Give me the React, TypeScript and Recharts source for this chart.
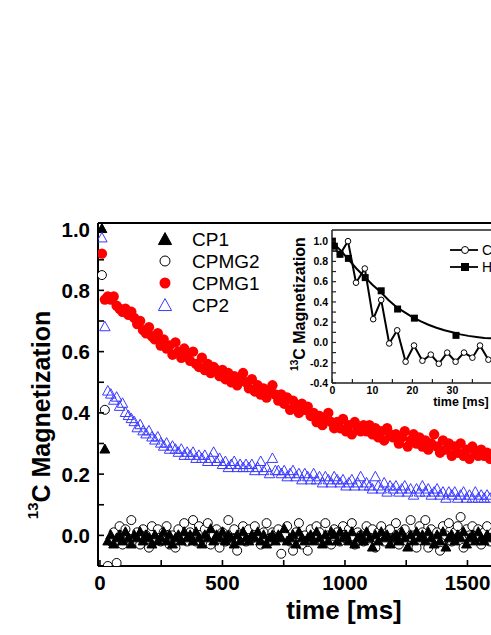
import React from 'react';
import { ScatterChart, Scatter, XAxis, YAxis, ReferenceLine } from 'recharts';

const FONT = '"Liberation Sans", Arial, Helvetica, sans-serif';

// main plot, time in ms
const times = [
  8, 20, 32, 44, 56, 68, 80, 92, 104, 116,
  128, 140, 152, 164, 176, 188, 200, 212, 224, 236,
  248, 260, 272, 284, 296, 308, 320, 332, 344, 356,
  368, 380, 392, 404, 416, 428, 440, 452, 464, 476,
  488, 500, 512, 524, 536, 548, 560, 572, 584, 596,
  608, 620, 632, 644, 656, 668, 680, 692, 704, 716,
  728, 740, 752, 764, 776, 788, 800, 812, 824, 836,
  848, 860, 872, 884, 896, 908, 920, 932, 944, 956,
  968, 980, 992, 1004, 1016, 1028, 1040, 1052, 1064, 1076,
  1088, 1100, 1112, 1124, 1136, 1148, 1160, 1172, 1184, 1196,
  1208, 1220, 1232, 1244, 1256, 1268, 1280, 1292, 1304, 1316,
  1328, 1340, 1352, 1364, 1376, 1388, 1400, 1412, 1424, 1436,
  1448, 1460, 1472, 1484, 1496, 1508, 1520, 1532, 1544, 1556,
  1568, 1580, 1592,
];

const cp1 = [
  1.0, 0.28, -0.02, 0.0, -0.03, -0.01, 0.0, -0.02, 0.01, -0.01,
  -0.03, 0.0, -0.01, 0.01, -0.02, 0.0, -0.01, -0.03, 0.0, -0.02,
  -0.01, 0.01, -0.02, 0.0, -0.03, -0.01, 0.0, -0.02, 0.01, -0.01,
  0.0, -0.02, 0.01, -0.01, -0.03, 0.0, -0.01, 0.02, -0.02, 0.0,
  -0.01, 0.01, -0.02, 0.0, -0.01, -0.03, 0.0, -0.02, 0.01, -0.01,
  -0.02, 0.0, -0.01, 0.01, -0.02, 0.0, -0.03, -0.01, 0.0, -0.02,
  0.0, -0.01, 0.02, -0.02, -0.01, 0.0, -0.03, 0.01, -0.01, -0.02,
  -0.01, 0.0, -0.02, 0.01, -0.01, -0.03, 0.0, -0.02, 0.01, 0.0,
  -0.02, 0.01, -0.01, 0.0, -0.02, 0.01, -0.03, -0.01, 0.0, -0.02,
  0.01, -0.01, -0.04, 0.0, -0.02, 0.01, -0.01, 0.0, -0.03, -0.01,
  0.0, -0.02, 0.01, -0.01, -0.04, 0.0, -0.02, 0.01, -0.01, 0.0,
  -0.02, 0.01, -0.01, -0.03, 0.0, -0.02, 0.01, -0.04, -0.01, 0.0,
  -0.02, 0.0, -0.01, 0.01, -0.03, -0.01, 0.0, -0.02, 0.01, -0.01,
  -0.02, 0.0, -0.01,
];

const cpmg2 = [
  0.85, 0.41, -0.1, -0.02, 0.01, -0.09, 0.03, -0.03, 0.02, -0.01,
  0.05, -0.02, 0.01, -0.03, 0.02, 0.0, -0.04, 0.03, -0.01, 0.02,
  -0.02, 0.01, 0.03, -0.03, 0.0, -0.04, 0.02, -0.01, 0.04, -0.02,
  0.01, 0.05, -0.02, 0.03, -0.01, 0.02, 0.04, -0.03, 0.0, 0.02,
  -0.04, 0.01, -0.02, 0.05, -0.01, 0.02, -0.05, 0.0, 0.03, -0.02,
  0.02, -0.01, 0.03, 0.0, -0.03, 0.01, 0.04, -0.02, 0.01, -0.01,
  0.02, -0.06, 0.0, 0.03, -0.02, -0.05, 0.01, 0.04, -0.03, 0.0,
  -0.05, 0.02, -0.01, 0.03, 0.01, -0.02, 0.04, 0.0, -0.03, 0.02,
  0.01, -0.02, 0.03, -0.01, 0.02, 0.04, -0.03, 0.01, 0.0, -0.02,
  0.03, -0.01, 0.02, -0.04, 0.01, 0.03, -0.02, 0.0, 0.02, -0.01,
  0.04, -0.03, 0.01, 0.02, -0.02, 0.05, 0.0, -0.04, 0.03, 0.01,
  0.05, -0.04, 0.02, -0.01, 0.01, -0.05, 0.03, 0.0, 0.04, -0.02,
  0.01, 0.03, 0.06, -0.04, 0.02, 0.0, 0.03, -0.01, 0.02, -0.03,
  0.01, 0.03, -0.02,
];

const cpmg1 = [
  0.92, 0.77, 0.78, 0.77, 0.78, 0.75, 0.74, 0.73, 0.74, 0.72,
  0.73, 0.71, 0.69, 0.7, 0.67, 0.66, 0.68, 0.65, 0.64, 0.66,
  0.62, 0.64, 0.61, 0.62, 0.59, 0.63, 0.6, 0.58, 0.61, 0.59,
  0.57, 0.6, 0.56, 0.55, 0.58, 0.54, 0.56, 0.53, 0.55, 0.54,
  0.52, 0.54, 0.51, 0.53, 0.5, 0.52, 0.49, 0.51, 0.53, 0.5,
  0.48, 0.51, 0.47, 0.49, 0.46, 0.48, 0.45, 0.47, 0.49, 0.46,
  0.44, 0.46, 0.43, 0.45, 0.41, 0.44, 0.42, 0.4, 0.43, 0.41,
  0.42, 0.39, 0.4, 0.37, 0.39, 0.36, 0.38, 0.4, 0.37, 0.35,
  0.37, 0.35, 0.38, 0.34, 0.36, 0.33, 0.37, 0.35, 0.34, 0.36,
  0.34, 0.36, 0.33, 0.35, 0.32, 0.34, 0.31, 0.35, 0.33, 0.32,
  0.33, 0.3, 0.32, 0.34, 0.29, 0.31, 0.33, 0.3, 0.32, 0.29,
  0.31, 0.28, 0.3, 0.33, 0.29, 0.27, 0.31, 0.28, 0.3, 0.26,
  0.29, 0.27, 0.3, 0.26, 0.28, 0.25, 0.29, 0.27, 0.26, 0.28,
  0.26, 0.27, 0.25,
];

const cp2 = [
  0.97, 0.68, 0.47, 0.46, 0.44, 0.45, 0.42, 0.43, 0.4, 0.39,
  0.38, 0.37, 0.35, 0.36, 0.34, 0.33, 0.34, 0.32, 0.31, 0.32,
  0.3, 0.29, 0.3, 0.28, 0.29, 0.28, 0.27, 0.28, 0.26, 0.27,
  0.26, 0.27, 0.25, 0.26, 0.25, 0.26, 0.24, 0.25, 0.27, 0.24,
  0.25, 0.23, 0.24, 0.22, 0.23, 0.24, 0.22, 0.23, 0.22, 0.23,
  0.22, 0.23, 0.21, 0.22, 0.24, 0.21, 0.22, 0.2, 0.25, 0.21,
  0.21, 0.2, 0.21, 0.19, 0.2, 0.21, 0.19, 0.2, 0.18, 0.2,
  0.19, 0.18, 0.2, 0.18, 0.19, 0.17, 0.19, 0.18, 0.17, 0.19,
  0.18, 0.17, 0.18, 0.16, 0.17, 0.18, 0.16, 0.17, 0.19, 0.16,
  0.17, 0.16, 0.15, 0.19, 0.16, 0.15, 0.17, 0.14, 0.16, 0.15,
  0.16, 0.14, 0.15, 0.16, 0.14, 0.15, 0.13, 0.15, 0.14, 0.16,
  0.14, 0.15, 0.13, 0.14, 0.15, 0.13, 0.14, 0.12, 0.14, 0.13,
  0.14, 0.12, 0.13, 0.14, 0.12, 0.13, 0.12, 0.14, 0.12, 0.13,
  0.12, 0.13, 0.12,
];

const xTicks = [0, 250, 500, 750, 1000, 1250, 1500];
const yTicks = [0, 0.1, 0.2, 0.3, 0.4, 0.5, 0.6, 0.7, 0.8, 0.9, 1.0];

// inset, time in ms
const insetCpmgT = [0, 0.5, 1.9, 3.9, 5.9, 8.1, 10.2, 12.2, 14.2, 16.2, 18.3, 20.4, 22.5, 24.6, 26.6, 28.7, 30.8, 32.9, 35.0, 36.9, 39.0];
const insetCpmgV = [0.98, 0.93, 0.87, 1.0, 0.59, 0.73, 0.23, 0.42, -0.01, 0.12, -0.19, -0.03, -0.18, -0.12, -0.21, -0.1, -0.19, -0.1, -0.15, -0.03, -0.17];
const insetHpT = [0, 0.5, 1.9, 4.0, 8.2, 12.2, 16.3, 20.5, 30.9];
const insetHpV = [1.0, 0.95, 0.87, 0.83, 0.64, 0.51, 0.33, 0.24, 0.07];
const fitT = [0, 2, 4, 6, 8, 10, 12, 14, 16, 18, 20, 22, 24, 26, 28, 30, 32, 34, 36, 38, 40];
const fitV = [0.99, 0.91, 0.82, 0.73, 0.65, 0.57, 0.5, 0.42, 0.35, 0.3, 0.25, 0.21, 0.175, 0.145, 0.12, 0.1, 0.08, 0.065, 0.055, 0.045, 0.04];
const insetXTicks = [0, 5, 10, 15, 20, 25, 30, 35];
const insetYTicks = [-0.4, -0.3, -0.2, -0.1, 0, 0.1, 0.2, 0.3, 0.4, 0.5, 0.6, 0.7, 0.8, 0.9, 1.0];

const pair = (t: number[], v: number[]) => v.map((y, i) => ({ t: t[i], v: y }));

const isEvenTenth = (v: number) => Math.round(v * 10) % 2 === 0;

const xTick = (len: number, major: (v: number) => boolean, fs: number, dy: number, sw: number, stroke: string) =>
  (props: any) => {
    const { x, y, payload } = props;
    const v = payload.value;
    return (
      <g>
        <line x1={x} y1={y} x2={x} y2={y - len} stroke={stroke} strokeWidth={sw} />
        {major(v) && (
          <text x={x} y={y + dy} textAnchor="middle" fontSize={fs} fontWeight="bold" fontFamily={FONT} fill="#000">
            {v}
          </text>
        )}
      </g>
    );
  };

const yTick = (len: number, fs: number, gap: number, sw: number, stroke: string) =>
  (props: any) => {
    const { x, y, payload } = props;
    const v = payload.value;
    return (
      <g>
        <line x1={x} y1={y} x2={x + len} y2={y} stroke={stroke} strokeWidth={sw} />
        {isEvenTenth(v) && (
          <text x={x - gap} y={y + fs * 0.36} textAnchor="end" fontSize={fs} fontWeight="bold" fontFamily={FONT} fill="#000">
            {Math.abs(v) < 1e-9 ? '0.0' : v.toFixed(1)}
          </text>
        )}
      </g>
    );
  };

const openCircle = (r: number, sw: number) => (p: any) =>
  <circle cx={p.cx} cy={p.cy} r={r} fill="#fff" stroke="#000" strokeWidth={sw} />;
const dot = (r: number, color: string) => (p: any) => <circle cx={p.cx} cy={p.cy} r={r} fill={color} />;
const tri = (s: number, fill: string, stroke: string) => (p: any) => (
  <polygon
    points={`${p.cx},${p.cy - s * 0.62} ${p.cx - s * 0.55},${p.cy + s * 0.38} ${p.cx + s * 0.55},${p.cy + s * 0.38}`}
    fill={fill}
    stroke={stroke}
    strokeWidth={1}
  />
);
const square = (s: number) => (p: any) => <rect x={p.cx - s / 2} y={p.cy - s / 2} width={s} height={s} fill="#000" />;
const nothing = () => <g />;

const BLUE = '#3a3aff';
const RED = '#ff0000';

const InsetChart = () => (
  <div style={{ position: 'absolute', left: 260, top: 220 }}>
    <ScatterChart width={231} height={193} margin={{ top: 10, right: 0, bottom: 0, left: 0 }}>
      <XAxis
        type="number"
        dataKey="t"
        domain={[-0.1, 39.65]}
        ticks={insetXTicks}
        interval={0}
        allowDataOverflow
        height={30}
        tickSize={0}
        tickMargin={0}
        axisLine={{ stroke: '#222', strokeWidth: 1.5 }}
        tickLine={false}
        tick={xTick(4, (v) => v % 10 === 0, 10.5, 11, 1.2, '#222')}
      />
      <YAxis
        type="number"
        dataKey="v"
        domain={[-0.4, 1.11]}
        ticks={insetYTicks}
        interval={0}
        allowDataOverflow
        width={72}
        tickSize={0}
        tickMargin={0}
        axisLine={{ stroke: '#222', strokeWidth: 1.5 }}
        tickLine={false}
        tick={yTick(4, 10.5, 4, 1.2, '#222')}
      />
      <ReferenceLine y={1.11} stroke="#222" strokeWidth={1.5} />
      <Scatter data={pair(fitT, fitV)} line={{ stroke: '#000', strokeWidth: 2 }} lineType="joint" shape={nothing} isAnimationActive={false} />
      <Scatter data={pair(insetCpmgT, insetCpmgV)} line={{ stroke: '#000', strokeWidth: 2 }} lineType="joint" shape={openCircle(2.8, 1)} isAnimationActive={false} />
      <Scatter data={pair(insetHpT, insetHpV)} shape={square(7)} isAnimationActive={false} />
    </ScatterChart>
  </div>
);

const Overlay = () => (
  <svg width={491} height={635} style={{ position: 'absolute', left: 0, top: 0, pointerEvents: 'none' }} fontFamily={FONT}>
    {/* main axis titles */}
    <text transform="translate(50,415) rotate(-90)" textAnchor="middle" fontSize={25} fontWeight="bold" fill="#000">
      <tspan fontSize={15} dy={-12}>13</tspan>
      <tspan dy={12}>C Magnetization</tspan>
    </text>
    <text x={344} y={619} textAnchor="middle" fontSize={26} fontWeight="bold" fill="#000">time [ms]</text>

    {/* main legend */}
    <g fontSize={19} fill="#000">
      {tri(12, '#000', '#000')({ cx: 165, cy: 240 })}
      <text x={192} y={246}>CP1</text>
      <circle cx={165} cy={261} r={5} fill="#fff" stroke="#000" strokeWidth={1} />
      <text x={192} y={268}>CPMG2</text>
      <circle cx={165} cy={283} r={5.5} fill={RED} />
      <text x={192} y={290}>CPMG1</text>
      {tri(12, 'none', BLUE)({ cx: 165, cy: 306 })}
      <text x={192} y={312}>CP2</text>
    </g>

    {/* inset titles */}
    <text transform="translate(305,304) rotate(-90)" textAnchor="middle" fontSize={16} fontWeight="bold" fill="#000">
      <tspan fontSize={10} dy={-7}>13</tspan>
      <tspan dy={7}>C Magnetization</tspan>
    </text>
    <text x={461} y={406} textAnchor="middle" fontSize={12.5} fontWeight="bold" fill="#000">time [ms]</text>

    {/* inset legend */}
    <line x1={450} y1={250} x2={478} y2={250} stroke="#000" strokeWidth={1.8} />
    <circle cx={465} cy={250} r={3.5} fill="#fff" stroke="#000" strokeWidth={1} />
    <text x={482} y={255} fontSize={14} fill="#000">CPMG</text>
    <line x1={450} y1={267} x2={478} y2={267} stroke="#000" strokeWidth={1.8} />
    <rect x={461} y={263} width={8} height={8} fill="#000" />
    <text x={482} y={272} fontSize={14} fill="#000">Hahn echo</text>
  </svg>
);

const App = () => {
  return (
    <div style={{ position: 'absolute', left: 0, top: 0, width: 491, height: 635, overflow: 'hidden', background: '#fff' }}>
      <ScatterChart width={491} height={635} margin={{ top: 223, right: 0, bottom: 0, left: 0 }}>
        <XAxis
          type="number"
          dataKey="t"
          domain={[-8, 1596]}
          ticks={xTicks}
          interval={0}
          allowDataOverflow
          height={69}
          tickSize={0}
          tickMargin={0}
          axisLine={{ stroke: '#000', strokeWidth: 2 }}
          tickLine={false}
          tick={xTick(6, (v) => v % 500 === 0, 20.5, 24, 1.6, '#000')}
        />
        <YAxis
          type="number"
          dataKey="v"
          domain={[-0.1, 1.02]}
          ticks={yTicks}
          interval={0}
          allowDataOverflow
          width={98}
          tickSize={0}
          tickMargin={0}
          axisLine={{ stroke: '#000', strokeWidth: 2 }}
          tickLine={false}
          tick={yTick(6, 20.5, 8, 1.6, '#000')}
        />
        <ReferenceLine y={1.02} stroke="#000" strokeWidth={2} />
        <Scatter name="CPMG2" data={pair(times, cpmg2)} shape={openCircle(4.5, 1)} isAnimationActive={false} />
        <Scatter name="CP1" data={pair(times, cp1)} shape={tri(9, '#000', '#000')} isAnimationActive={false} />
        <Scatter name="CPMG1" data={pair(times, cpmg1)} shape={dot(5.2, RED)} isAnimationActive={false} />
        <Scatter name="CP2" data={pair(times, cp2)} shape={tri(9.5, 'none', BLUE)} isAnimationActive={false} />
      </ScatterChart>
      <InsetChart />
      <Overlay />
    </div>
  );
};

export default App;
